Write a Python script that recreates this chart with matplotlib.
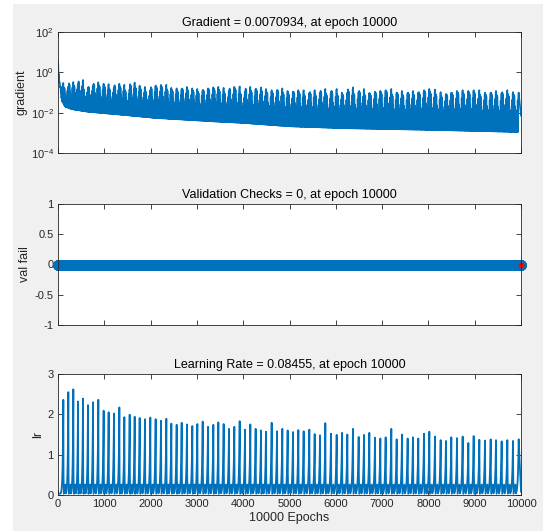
import matplotlib

matplotlib.use("Agg")

import matplotlib.pyplot as plt
import numpy as np
from matplotlib.patches import Rectangle


FINAL_EPOCH = 10000
FINAL_GRADIENT = 0.0070934
FINAL_LR = 0.08455
FINAL_VAL_FAIL = 0
START_GRADIENT = 3.5
START_LR = 0.01

# epochs where the learning rate peaks (and the gradient spikes)
PEAK_EPOCHS = [
    115, 223, 331, 432, 540, 648, 756, 871, 986, 1094,
    1209, 1325, 1433, 1548, 1656, 1764, 1879, 1994, 2109, 2225,
    2340, 2448, 2563, 2671, 2786, 2901, 3009, 3125, 3240, 3355,
    3463, 3578, 3693, 3808, 3924, 4039, 4154, 4269, 4384, 4492,
    4615, 4730, 4845, 4960, 5076, 5191, 5306, 5428, 5544, 5659,
    5774, 5896, 6019, 6134, 6249, 6371, 6494, 6609, 6724,
    6847, 6962, 7077, 7199, 7315, 7430, 7552, 7667, 7782, 7905,
    8020, 8143, 8265, 8380, 8495, 8618, 8740, 8863, 8978, 9100,
    9222, 9345, 9460, 9582, 9705, 9827, 9950,
]

LR_PEAKS = [
    2.36, 2.55, 2.62, 2.32, 2.39, 2.23, 2.30, 2.36, 2.09, 2.05,
    2.02, 2.17, 1.93, 1.99, 1.94, 1.91, 1.88, 1.92, 1.88, 1.84,
    1.89, 1.77, 1.74, 1.79, 1.75, 1.71, 1.76, 1.82, 1.69, 1.74,
    1.80, 1.76, 1.64, 1.69, 1.83, 1.62, 1.75, 1.64, 1.60, 1.57,
    1.79, 1.58, 1.64, 1.60, 1.56, 1.61, 1.58, 1.62, 1.51, 1.48,
    1.78, 1.52, 1.49, 1.54, 1.50, 1.64, 1.44, 1.49, 1.54,
    1.42, 1.40, 1.43, 1.64, 1.38, 1.50, 1.40, 1.43, 1.40, 1.52,
    1.57, 1.45, 1.36, 1.34, 1.43, 1.41, 1.45, 1.29, 1.46, 1.37,
    1.35, 1.38, 1.36, 1.33, 1.36, 1.34, 1.38,
]

GRADIENT_PEAKS = [
    0.30, 0.20, 0.33, 0.26, 0.42, 0.17, 0.22, 0.32, 0.27, 0.26,
    0.18, 0.27, 0.24, 0.15, 0.31, 0.22, 0.19, 0.13, 0.22, 0.24,
    0.24, 0.17, 0.16, 0.15, 0.19, 0.16, 0.15, 0.13, 0.16, 0.18,
    0.19, 0.17, 0.12, 0.19, 0.20, 0.11, 0.19, 0.15, 0.18, 0.15,
    0.13, 0.13, 0.16, 0.12, 0.11, 0.13, 0.13, 0.095, 0.13, 0.098,
    0.15, 0.11, 0.15, 0.098, 0.098, 0.18, 0.11, 0.15, 0.095,
    0.11, 0.12, 0.13, 0.15, 0.10, 0.12, 0.095, 0.12, 0.10, 0.13,
    0.15, 0.14, 0.105, 0.085, 0.098, 0.12, 0.13, 0.12, 0.13, 0.13,
    0.098, 0.10, 0.12, 0.095, 0.13, 0.105, 0.10,
]

# lower edge of the gradient band
GRADIENT_FLOOR_EPOCHS = [0, 30, 80, 150, 295, 655, 1375, 2095, 3355, 4000, 5010, 6160, 8070, 9950, 10000]
GRADIENT_FLOOR = [3.5, 0.4, 0.04, 0.02, 0.015, 0.011, 0.0079, 0.0055, 0.0037, 0.0031, 0.0021, 0.0017, 0.0014, 0.0011, 0.0011]

# one lr cycle after a peak: (fraction of cycle, lr) before the climb to the next peak
LR_CYCLE_LOW = [(0.04, 0.5), (0.1, 0.03), (0.42, 0.26), (0.52, 0.04)]
LR_CLIMB_STEPS = 10

# noisy gradient band inside one cycle: 0 = floor, 1 = next spike (log scale)
GRADIENT_CYCLE_LEVELS = [0.0, 0.95, 0.0, 0.9, 0.0, 0.65, 0.0, 0.5, 0.0, 0.45, 0.0, 0.55, 0.0, 0.8, 0.0, 0.95]

BLUE = "#0072BD"
AXIS_COLOR = "#262626"
BACKGROUND = "#F0F0F0"


def build_lr():
    x = [0.0]
    y = [START_LR]
    starts = [0] + PEAK_EPOCHS[:-1]
    low_phase, low_value = LR_CYCLE_LOW[-1]
    for k, (start, end, peak) in enumerate(zip(starts, PEAK_EPOCHS, LR_PEAKS)):
        span = end - start
        for phase, value in LR_CYCLE_LOW:
            if k == 0 and value > low_value * 5:
                continue
            x.append(start + phase * span)
            y.append(value)
        for t in np.linspace(0, 1, LR_CLIMB_STEPS + 1)[1:]:
            x.append(start + (low_phase + (1 - low_phase) * t) * span)
            y.append(low_value * (peak / low_value) ** t)
    x.append(FINAL_EPOCH)
    y.append(FINAL_LR)
    return np.array(x), np.array(y)


def build_gradient():
    x = [0.0]
    y = [START_GRADIENT]
    starts = [0] + PEAK_EPOCHS[:-1]
    log_floor = np.log10(GRADIENT_FLOOR)
    n = len(GRADIENT_CYCLE_LEVELS)
    for start, end, peak in zip(starts, PEAK_EPOCHS, GRADIENT_PEAKS):
        for i, level in enumerate(GRADIENT_CYCLE_LEVELS):
            epoch = start + (end - start) * (i + 1) / (n + 1)
            floor = 10 ** np.interp(epoch, GRADIENT_FLOOR_EPOCHS, log_floor)
            x.append(epoch)
            y.append(floor * (peak / floor) ** level)
        x.append(end)
        y.append(peak)
    x.append(FINAL_EPOCH)
    y.append(FINAL_GRADIENT)
    return np.array(x), np.array(y)


def style_axes(ax, show_xlabels):
    ax.set_xlim(0, FINAL_EPOCH)
    ax.set_xticks(np.arange(0, FINAL_EPOCH + 1, 1000))
    ax.tick_params(
        direction="in", length=3.3, width=0.6, top=True, right=True,
        colors=AXIS_COLOR, labelsize=8, pad=3,
    )
    ax.tick_params(which="minor", left=False, right=False)
    if not show_xlabels:
        ax.set_xticklabels([])
    for spine in ax.spines.values():
        spine.set_color(AXIS_COLOR)
        spine.set_linewidth(0.6)


def main():
    plt.rcParams["font.family"] = ["Liberation Sans", "DejaVu Sans"]
    plt.rcParams["mathtext.fontset"] = "custom"
    plt.rcParams["mathtext.rm"] = "Liberation Sans"
    plt.rcParams["mathtext.it"] = "Liberation Sans"

    fig = plt.figure(figsize=(5.5, 5.31), dpi=100)
    fig.patches.append(Rectangle(
        (13 / 550, 0), 530 / 550, 1 - 4 / 531, transform=fig.transFigure,
        facecolor=BACKGROUND, edgecolor="none", zorder=-10,
    ))

    left = 58 / 550
    width = 463 / 550
    height = 121 / 531
    ax_grad = fig.add_axes([left, 1 - 153 / 531, width, height])
    ax_val = fig.add_axes([left, 1 - 325 / 531, width, height])
    ax_lr = fig.add_axes([left, 1 - 495 / 531, width, height])

    # gradient
    gx, gy = build_gradient()
    ax_grad.semilogy(gx, gy, color=BLUE, linewidth=1.2)
    ax_grad.set_ylim(1e-4, 1e2)
    ax_grad.set_yticks([1e-4, 1e-2, 1e0, 1e2])
    style_axes(ax_grad, False)
    ax_grad.set_title(f"Gradient = {FINAL_GRADIENT}, at epoch {FINAL_EPOCH}", fontsize=9, pad=4)
    ax_grad.set_ylabel("gradient", fontsize=9, color=AXIS_COLOR)
    ax_grad.yaxis.set_label_coords(-0.066, 0.5)

    # validation checks
    epochs = np.arange(0, FINAL_EPOCH + 1)
    val_fail = np.zeros(len(epochs))
    ax_val.plot(epochs, val_fail, color=BLUE, linewidth=2, marker="o", markersize=6.5, clip_on=False)
    ax_val.plot([FINAL_EPOCH], [FINAL_VAL_FAIL], "o", color="red", markersize=3.2, clip_on=False)
    ax_val.set_ylim(-1, 1)
    ax_val.set_yticks([-1, -0.5, 0, 0.5, 1])
    ax_val.set_yticklabels(["-1", "-0.5", "0", "0.5", "1"])
    style_axes(ax_val, False)
    ax_val.set_title(f"Validation Checks = {FINAL_VAL_FAIL}, at epoch {FINAL_EPOCH}", fontsize=9, pad=4)
    ax_val.set_ylabel("val fail", fontsize=9, color=AXIS_COLOR)
    ax_val.yaxis.set_label_coords(-0.058, 0.5)

    # learning rate
    lx, ly = build_lr()
    ax_lr.plot(lx, ly, color=BLUE, linewidth=1.3)
    ax_lr.set_ylim(0, 3)
    ax_lr.set_yticks([0, 1, 2, 3])
    style_axes(ax_lr, True)
    ax_lr.set_title(f"Learning Rate = {FINAL_LR}, at epoch {FINAL_EPOCH}", fontsize=9, pad=4)
    ax_lr.set_ylabel("lr", fontsize=9, color=AXIS_COLOR)
    ax_lr.yaxis.set_label_coords(-0.030, 0.5)
    ax_lr.set_xlabel(f"{FINAL_EPOCH} Epochs", fontsize=9, color=AXIS_COLOR, labelpad=2)

    fig.savefig("out.png", dpi=100, facecolor="white")
    plt.close(fig)


if __name__ == "__main__":
    main()
